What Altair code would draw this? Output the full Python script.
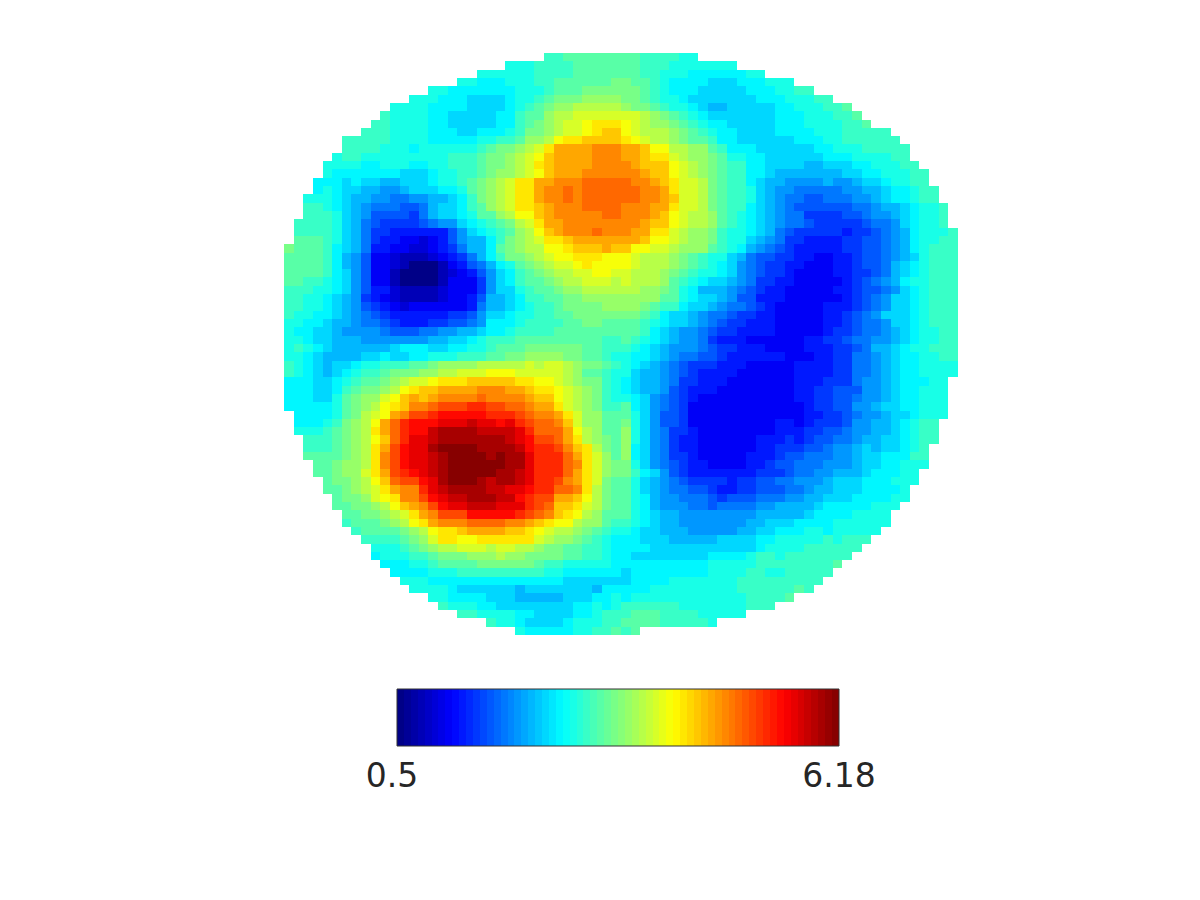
import altair as alt
import pandas as pd

# One character per cell, '.' is outside the disc. Ten columns per group.
LEVELS = "0123456789abcdefghijklmnopqrstuv"
rows = [
".......... .......... .......dde eeeeeeeddd dcc....... .......... ..........",
".......... .......... ...cccdddd eeeeeeeddd ccccccc... .......... ..........",
".......... .......... ccccccdddd eeeeeeeddc ccbbbbbbcc .......... ..........",
".......... ........cc bbbcccddee eeeeffeedc bbbbaaabbb ccc....... ..........",
".......... .....ccbbb bbbbcccdee effffffedc bbbaaaaabb bccdd..... ..........",
".......... ...cccbbba aaabccdeff fggggffedc cbaaaaaaab bbcccdd... ..........",
".......... .ccccbbbba aaabcdefgg hhhhhgffed ccba99aaaa abbcccdde. ..........",
".......... dccccbbaaa aabbdeeghh iiiiiiihgf edcbaaaaaa abbbcccdde ..........",
".........d dccccbbaaa aabbdefghi ijkkkjihgg fedcbbaaaa abbbccccdd e.........",
"........dd dccccbbbaa bbbcdffghi ijklljihhh gfedcbbaaa abbbbcccdd ddd.......",
"......dddd dccccbbbbb ccddegghjk kllllkjihh gfeedbbaaa aaabbbccdd dddd......",
"......dddd cccbcccccc deffghikmm mmnnnmmljj hhggedbbba aaaaabbccc ddddd.....",
".....cddcc cccccccddd effghijlmm mmnnnmmlkk ihggfeccbb aaaaaabbbc cccdd.....",
"....ccccbb cccbbccddd effghiklmm mmnnnnmlll jihgfeddbb aaaa99aaab bcccdd....",
"....cbbbbb bbaaabccdd efgghijlmm mnnnnnnmll jihgfeddbb a9999999aa bbcccdd...",
"...bbbabaa 99aaabccde fghikkmmnn nooooonnml kiihfeddba 9988889889 aabccdd...",
"...bcbaa99 889aaabbce fghikkmnno noooooonnm kiihfeddca 9887777788 99abbcdd..",
"..cccba998 8778899abd fghikkmnno noooooonnm liihfeddca 9877667778 89abbcdd..",
"..ddcba987 776679aabd eghikklmnn noooonnnmm kiihfeddba 9876666667 7899abccd.",
"..dddca986 666579aabc eeghjjlmnn nnnoonnnml jihhgedcba 9877555566 7889abccd.",
".ddddca976 55556788ab cdefhikmmn nnnnnnnmll jihhgedcba 9877655555 6778abccd.",
".ddddca975 544444468a bcdeghjlmn nnonnnmmkk ihggfdccba 9765555545 56789bcccd",
".eeedca975 4433234689 9bdfghikkl mmmmmmmljj ihggfdcca9 8755444455 66789bccdd",
"feeedba974 4332234579 9befghhjjk lllmlljjii hgggedcb98 7654444455 66789bcddd",
"eeeedb9863 3211123457 9bdffghijj kkkjjjihhh gfedcca976 6554433445 66789acddd",
"eeeedb9863 3210001346 79bcefghii jkjjjjihhh gfedcba876 5544333445 6679abcddd",
"eeeedba863 3100001234 68abdefghh iijjiihhhg fedccba876 5543333445 5679abcddd",
"eeddcba863 3100001333 58abdeefgh hiiihihhhg edcbaa9875 5443333345 6789bccddd",
"dddccba864 4211112333 58aacdeefg ghhhhhhggf ecb9998765 4433333445 6678abcddd",
"ddccba9854 3211112334 699abddeef fgggggggge ecbaa98664 4433333345 678aabcddd",
"ddccba9865 4323333334 799abcddef fffggggfed dbaa987765 4333334445 678aabcddd",
"dccbba9876 5444444556 8aabccddee fffffffedb aa98776554 4333334456 78aaabcddd",
"ccbba99877 6544455667 8bbbcdddde effeeeedcb aa98765544 4333334456 778aabcddd",
"cbbaa98888 7666778899 abbcddddee eeeeeeedba 9887655444 4333334556 7789abccdd",
"ccbaa99988 8888899aab cdddeeeeee eeeddedcba 9887544433 3333445567 7889abccdd",
"cdcba99999 9abbbaabbc cdeeefffff feedddcba9 8887655444 3333444556 799abccddd",
"ccba9999aa baabbcccdd deeffggggf feedccbba9 8776654444 4433344557 789abbccdd",
"dcba9aabcc dddeefgggg hhhhhihiih gffedcba98 7655544433 3334444557 789abbcccc",
"dcba9abcdd efffgghhii ijjjiiiiih geedcca998 7654444333 3334444557 789abbcccc",
"bbbaabcdee fghiijkkkl llllkkjjih gffdcba998 7554443333 3334445557 889abbbcc.",
"bbbaabdeff ghjkllmmmm nnnmmlkkji hgfdcba998 6544433333 3334455666 889abbccc.",
"bbbaacefgg ijlmlmnnnn onnnnmllji hgfdccba87 6543333333 3334455667 889abbccc.",
"bbbbbcefgh jklnnopppq qppoonmmki hgfddeba87 6533333333 3333455668 89aabbccc.",
".bbbbcefhi jmnppqrrrr rqqqponnmk iggeeeca86 6533333333 3333445567 889aabccc.",
".bbbcdfghj moqrrrssst ssrsqpoonl iggeefca86 6533333333 3443455568 899abcdd..",
".cccdefghk moqrrtuuuu ttttsqooom jhgeegca87 5543333333 3444556678 899abcdd..",
"..dddefghj loqsstuuuu uuutsrppom khgfegca87 5443333334 4454566778 99aabcdd..",
"..dddefghk mprssuvvvv uuuutrqqpn lkhfegba87 5443333334 4555667889 a9aabcd...",
"..eeeefghk nprsstuvvv vuvuusqqqo mkigegba87 5543333344 4566777889 aabbbdd...",
"...eefgghk nprsstuvvv vvvuusqqqo nkigffca87 6544333344 5667778889 aabbccc...",
"...eefggik mpqrstuvvv vvuutsqqqo mkigffdba8 6544444445 5567788999 abbbcc....",
"....effghj lopprsuvvv utuutsqqpn mkifeeca98 7655554556 6778889aaa bbbccc....",
"....eefghi kmnnqstuuu uttssrqqoo nkhfeeca98 7766544556 6677899aaa bbbbc.....",
".....effgi jknnprsttu uuttrqppmm ljhfeecb98 8777656667 778899aaab bbbcc.....",
".....eeffg hjlmnprsst ttsssqpoll kihfeecb98 8877677778 89999abbbb bccc......",
"......eeff ghikmnpppr rrrrqponlk jhgeeecba9 9888888889 9999abbbbc ccc.......",
"......deee fghjkmnnno ooonnmlkjj hggeddcba9 9888888899 aaabbbbccc ccc.......",
".......dee eefghjkklm mmmllkjihh gfedccbaa9 998888899a abbbccbccc cc........",
"........dd ddefgikkjj kkkkkkihgg fedcbbbaaa 99999aaaab bcccccdcdd d.........",
".........c ccdefghhii ihiihhgffe eddcbbbbaa aaaaaaaaab ccccdddddd ..........",
".........b cccddefffg gghggffffe eddcbbaaaa aaaabbbbcd dcddddddd. ..........",
".......... bbbccdeeee ffffffeddc ccccbbbbbb bbbbcccccd ddddddde.. ..........",
".......... .bbbbcccdd dddddddccb bbbbbabbbb bbbbccccdd ccddddd... ..........",
".......... ..cccbbbbb bbbbbbbbba aaaaaabbbb cccccccddd dddddd.... ..........",
".......... ...ccccbaa aaaa9aaaaa aa9bbbbbcc cccccccddd ddded..... ..........",
".......... .....ccbbb baaa99999a aabbcbcccc ccccccccdd dde....... ..........",
".......... ......dccc bbaaaaaaaa bbcbcddddd dcccccccdd d......... ..........",
".......... ........dd ccccbbaaaa bbcdddeeed dddccccc.. .......... ..........",
".......... .......... .dccbaaaab cccddeeeed ddddc..... .......... ..........",
".......... .......... ....cbbbbb ccddede... .......... .......... ..........",
]

tick_values = [0.5, 6.18]
tick_labels = ["0.5", "6.18"]
N_COLORS = 64


def jet(i):
    x = (i + 0.5) / N_COLORS
    clip = lambda v: int(round(255 * max(0.0, min(1.0, v))))
    r = min(4 * x - 1.5, -4 * x + 4.5)
    g = min(4 * x - 0.5, -4 * x + 3.5)
    b = min(4 * x + 0.5, -4 * x + 2.5)
    return "#%02x%02x%02x" % (clip(r), clip(g), clip(b))


palette = [jet(i) for i in range(N_COLORS)]
color_scale = alt.Scale(domain=list(range(N_COLORS)), range=palette)

cells = []
for r, row in enumerate(rows):
    row = row.replace(" ", "").ljust(70, ".")[:70]
    for c, ch in enumerate(row):
        if ch != ".":
            level = LEVELS.index(ch)
            cells.append({"c0": c, "c1": c + 1, "r0": r, "r1": r + 1,
                          "idx": 2 * level + (1 if level else 0)})
cells = pd.DataFrame(cells)

map_x = alt.Scale(domain=[0, 70], range=[276, 950], round=True, nice=False, zero=False)
map_y = alt.Scale(domain=[0, 70], range=[45, 627], round=True, nice=False, zero=False)
bar_x = alt.Scale(domain=tick_values, range=[389, 831], round=True, nice=False, zero=False)
bar_y = alt.Scale(domain=[0, 1], range=[681, 738], nice=False, zero=False)

heat = alt.Chart(cells).mark_rect(strokeWidth=0).encode(
    x=alt.X("c0:Q", scale=map_x, axis=None),
    x2="c1:Q",
    y=alt.Y("r0:Q", scale=map_y, axis=None),
    y2="r1:Q",
    color=alt.Color("idx:O", scale=color_scale, legend=None),
)

step = (tick_values[1] - tick_values[0]) / N_COLORS
bar_df = pd.DataFrame({
    "lo": [tick_values[0] + i * step for i in range(N_COLORS)],
    "hi": [tick_values[0] + (i + 1) * step for i in range(N_COLORS)],
    "b0": [0] * N_COLORS,
    "b1": [1] * N_COLORS,
    "idx": list(range(N_COLORS)),
})
bar = alt.Chart(bar_df).mark_rect(strokeWidth=0).encode(
    x=alt.X("lo:Q", scale=bar_x, axis=None),
    x2="hi:Q",
    y=alt.Y("b0:Q", scale=bar_y, axis=None),
    y2="b1:Q",
    color=alt.Color("idx:O", scale=color_scale, legend=None),
)

frame_df = pd.DataFrame({"lo": [tick_values[0]], "hi": [tick_values[1]], "b0": [0], "b1": [1]})
frame = alt.Chart(frame_df).mark_rect(fillOpacity=0, stroke="#333333", strokeWidth=1).encode(
    x=alt.X("lo:Q", scale=bar_x, axis=None),
    x2="hi:Q",
    y=alt.Y("b0:Q", scale=bar_y, axis=None),
    y2="b1:Q",
)

font = dict(font="DejaVu Sans", fontSize=33, color="#262626", baseline="middle", align="center")
label_lo = alt.Chart(pd.DataFrame({"v": tick_values[:1], "t": tick_labels[:1]})).mark_text(dx=-5, **font).encode(
    x=alt.X("v:Q", scale=bar_x, axis=None), y=alt.value(769), text="t:N")
label_hi = alt.Chart(pd.DataFrame({"v": tick_values[1:], "t": tick_labels[1:]})).mark_text(**font).encode(
    x=alt.X("v:Q", scale=bar_x, axis=None), y=alt.value(769), text="t:N")

chart = (
    alt.layer(heat, bar, frame, label_lo, label_hi)
    .resolve_scale(x="independent", y="independent", color="independent")
    .properties(width=1184, height=884, padding=0, autosize="none")
    .configure_view(stroke=None)
)

chart.save("out.html", embed_options={"renderer": "svg", "actions": False})
